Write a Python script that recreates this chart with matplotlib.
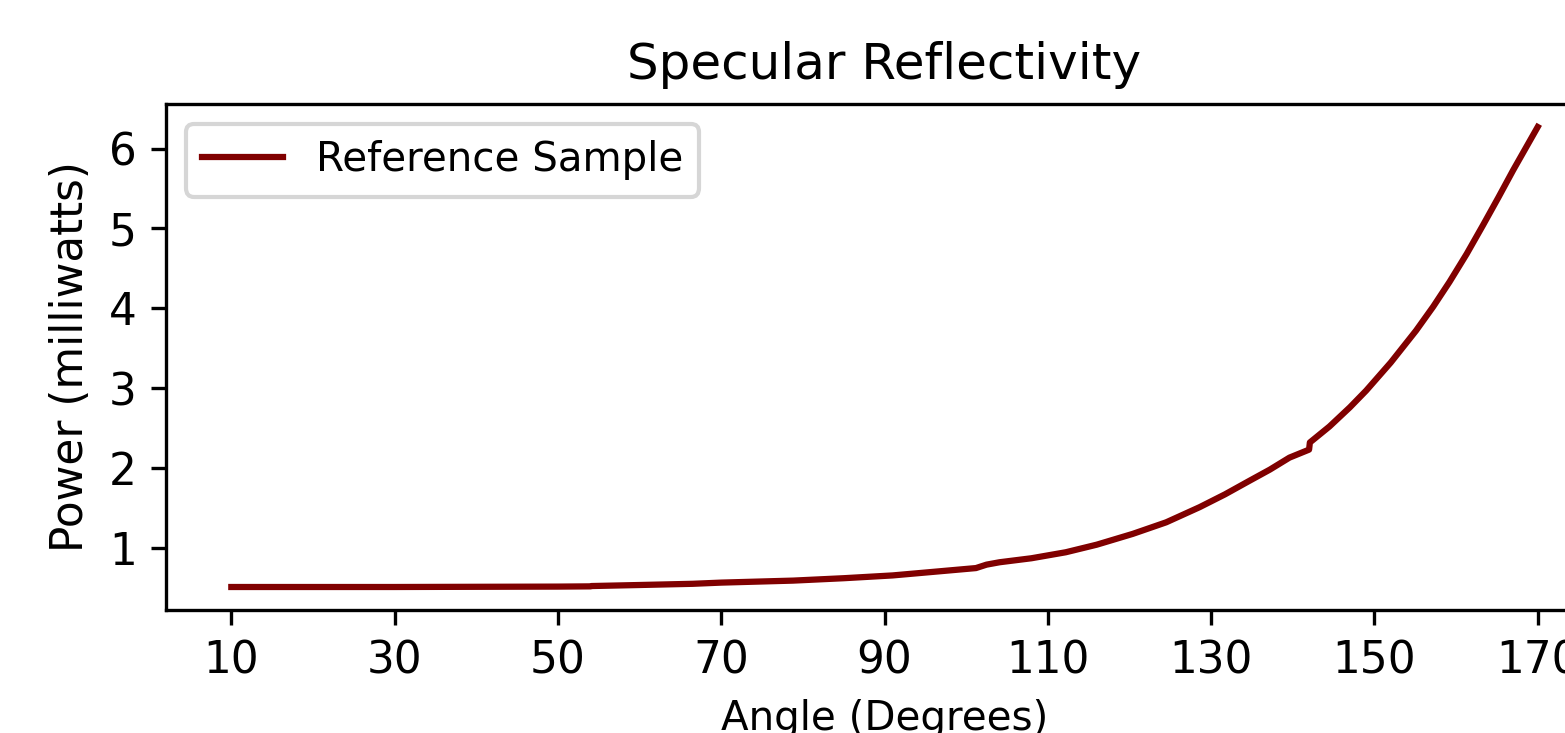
"""Specular reflectivity of the reference sample vs. detector angle."""
import matplotlib
matplotlib.use("Agg")
import matplotlib.pyplot as plt

LINE = "#800000"

angle = [10, 30, 50, 54, 54.1, 60, 66.5, 70, 78.8, 85, 91, 96, 101.2,
         102.5, 104.1, 108, 112.2, 116, 120.4, 124.5, 128.6, 131.7, 134.7,
         137.2, 139.6, 142, 142.1, 144.5, 147, 149, 152, 155.1, 157.2, 159.2,
         161.3, 163.3, 165.2, 167, 168.5, 170]
power = [0.51, 0.51, 0.515, 0.518, 0.522, 0.535, 0.55, 0.565, 0.59, 0.62,
         0.655, 0.70, 0.747, 0.79, 0.82, 0.87, 0.945, 1.04, 1.175, 1.32,
         1.51, 1.67, 1.84, 1.98, 2.13, 2.23, 2.32, 2.52, 2.76, 2.97, 3.32,
         3.72, 4.02, 4.33, 4.68, 5.04, 5.39, 5.73, 6.0, 6.27]
xticks = list(range(10, 171, 20))
yticks = [1, 2, 3, 4, 5, 6]

plt.rcParams["font.size"] = 10.5

W, H = 1565, 733
fig = plt.figure(figsize=(W / 300, H / 300), dpi=300)
# right edge of the axes runs past the figure, as in the original crop
ax = fig.add_axes([166 / W, 1 - 610 / H, (1603 - 166) / W, (610 - 104) / H])

ax.plot(angle, power, color=LINE, lw=1.5, label="Reference Sample")
ax.set_xticks(xticks)
ax.set_yticks(yticks)
ax.set_title("Specular Reflectivity", fontsize=12)
ax.set_xlabel("Angle (Degrees)", fontsize=9.7)
ax.set_ylabel("Power (milliwatts)")
ax.legend(loc="upper left", fontsize=9.7)

fig.savefig("out.png", dpi=300)
